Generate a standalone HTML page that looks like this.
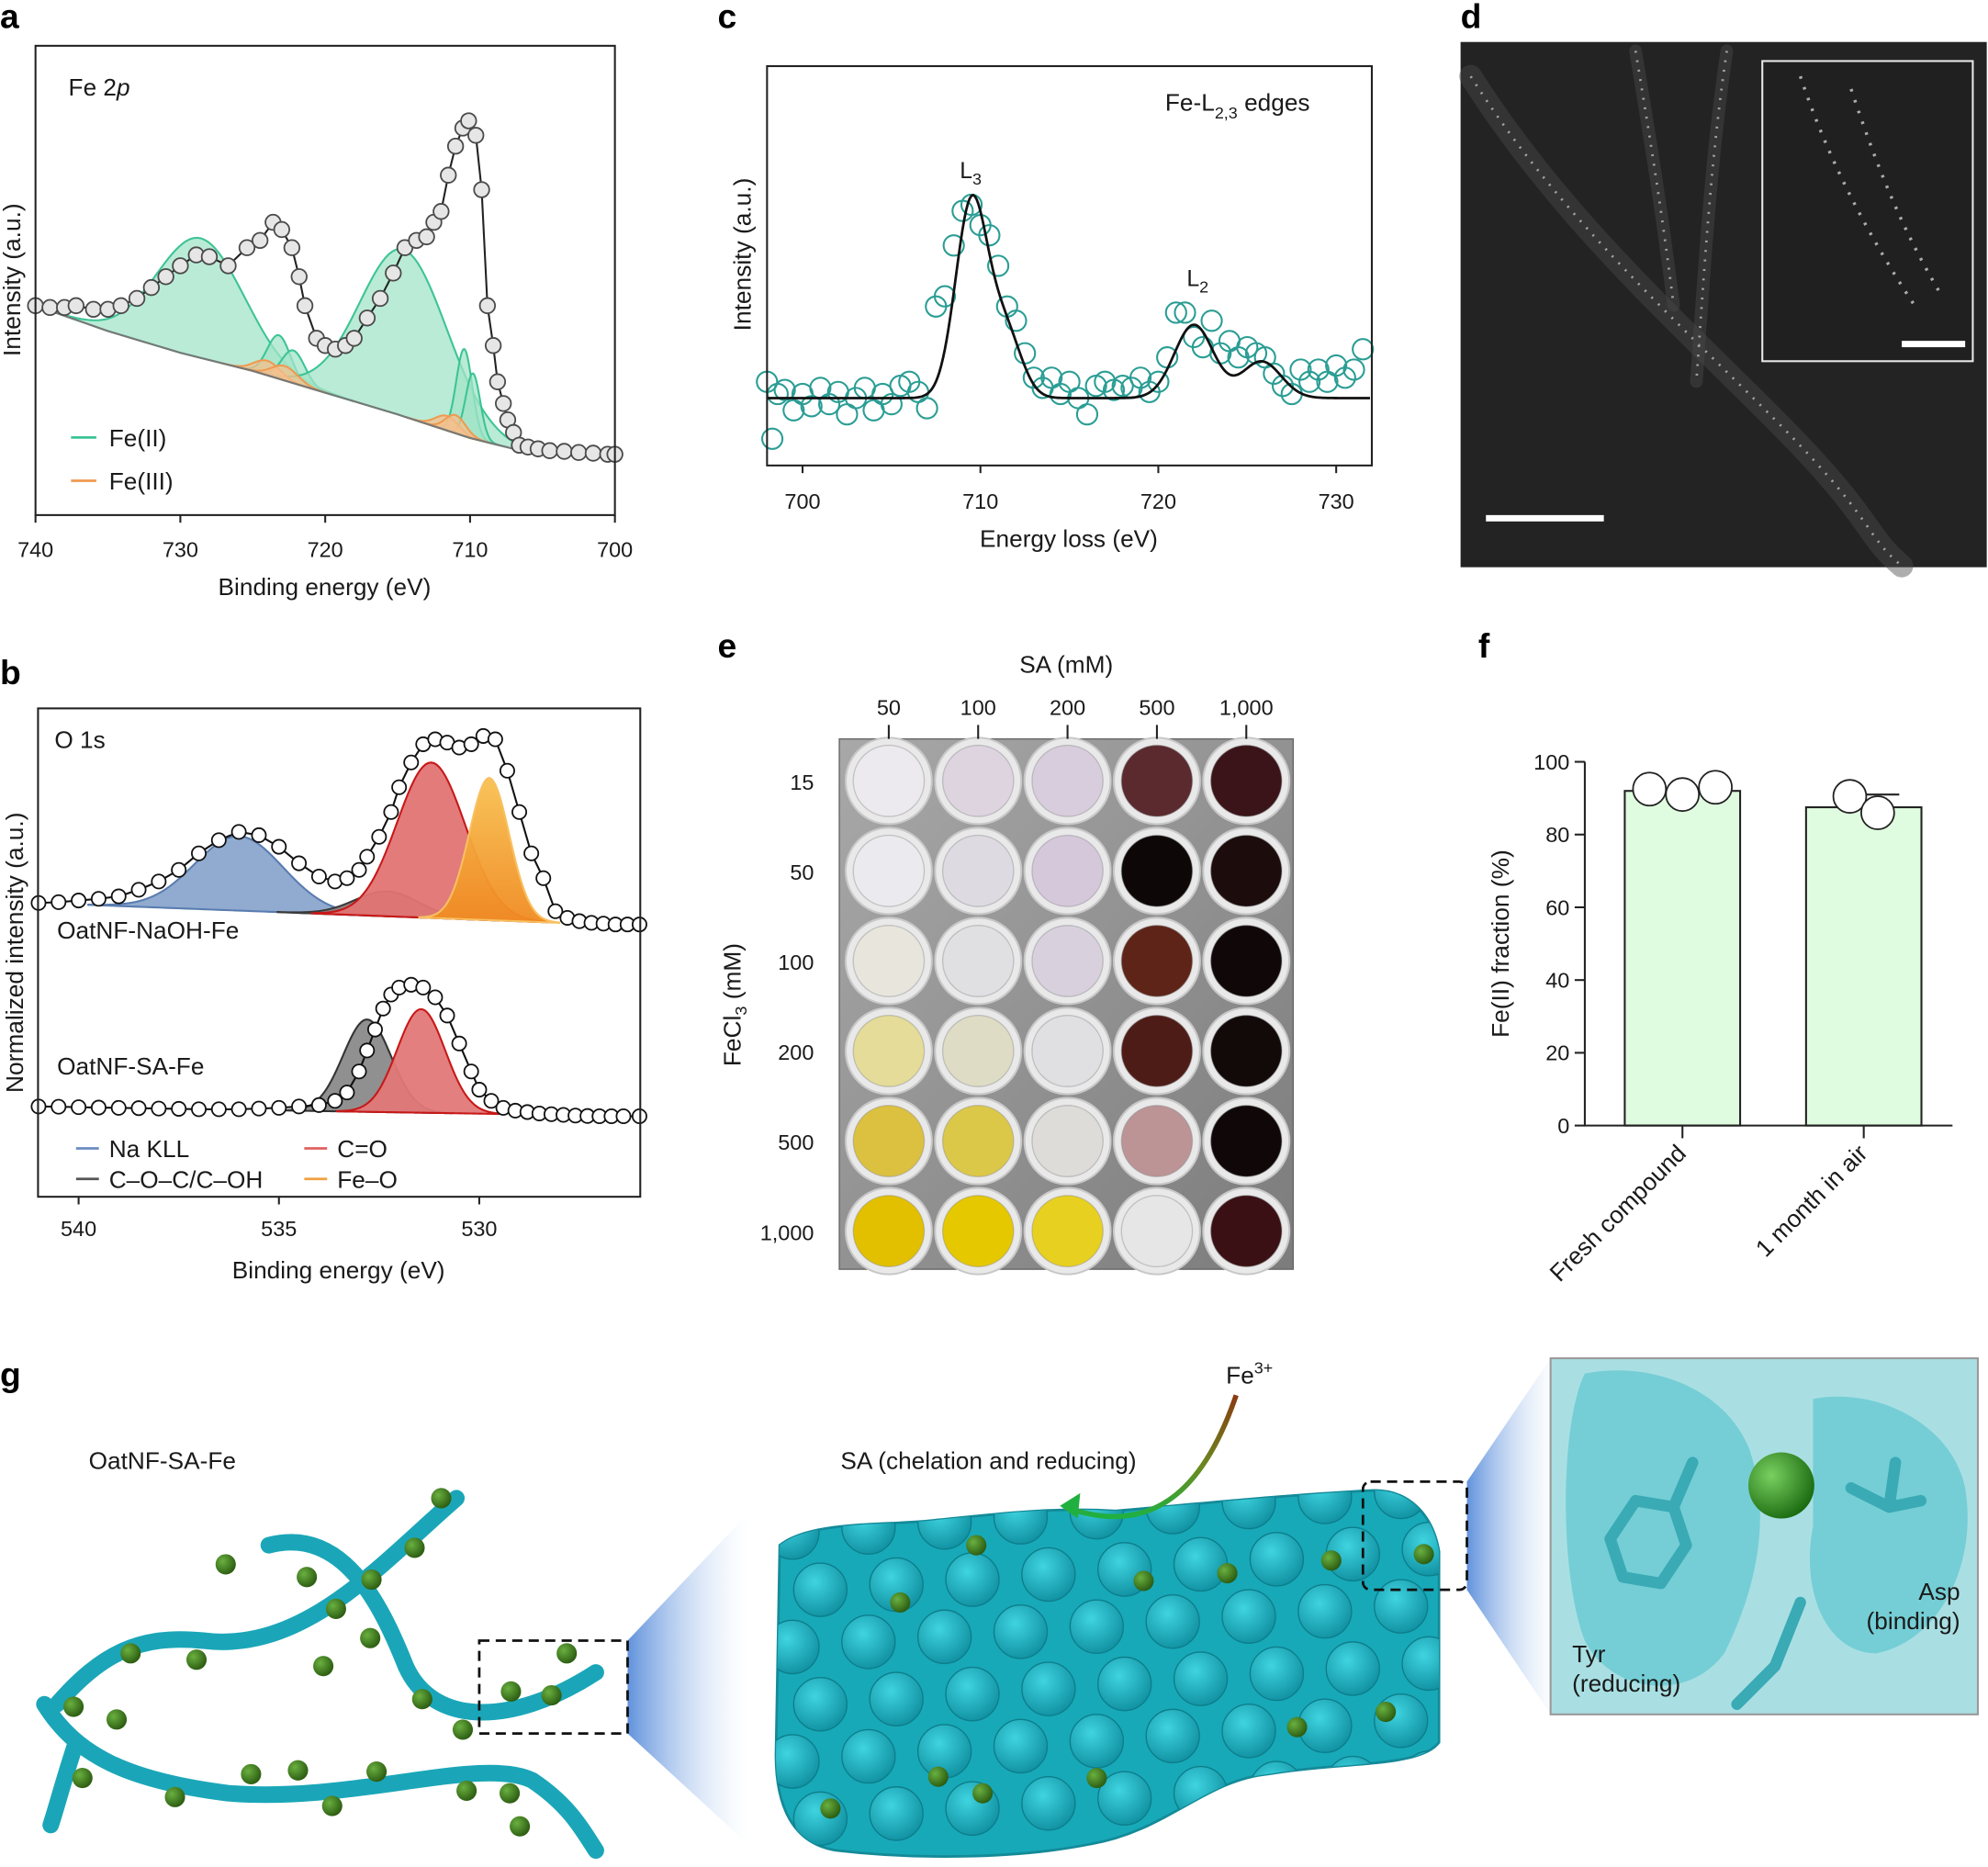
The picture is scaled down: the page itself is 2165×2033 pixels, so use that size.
<!DOCTYPE html>
<html><head><meta charset="utf-8"><style>
html,body{margin:0;padding:0;background:#fff;}
svg{display:block;font-family:"Liberation Sans",sans-serif;}
</style></head><body>
<svg id="fig" xmlns="http://www.w3.org/2000/svg" width="2165" height="2033" viewBox="0 0 1568 1468" preserveAspectRatio="none">
<defs>
<linearGradient id="wedge1" x1="0" y1="0" x2="1" y2="0"><stop offset="0" stop-color="#4f86d8" stop-opacity="0.9"/><stop offset="1" stop-color="#cfe0f6" stop-opacity="0"/></linearGradient>
<linearGradient id="wedge2" x1="0" y1="0" x2="1" y2="0"><stop offset="0" stop-color="#4f86d8" stop-opacity="0.9"/><stop offset="1" stop-color="#cfe0f6" stop-opacity="0.1"/></linearGradient>
<linearGradient id="arrowg" x1="0" y1="0" x2="0" y2="1"><stop offset="0" stop-color="#8a3a10"/><stop offset="0.6" stop-color="#6a8a20"/><stop offset="1" stop-color="#20b040"/></linearGradient>
<linearGradient id="plateg" x1="0" y1="0" x2="1" y2="1"><stop offset="0" stop-color="#a8a8a8"/><stop offset="1" stop-color="#7c7c7c"/></linearGradient>
<linearGradient id="feog" x1="0" y1="0" x2="0" y2="1"><stop offset="0" stop-color="#f8c050"/><stop offset="1" stop-color="#f08a20"/></linearGradient>
<radialGradient id="ballg" cx="0.35" cy="0.35" r="0.7"><stop offset="0" stop-color="#7ad060"/><stop offset="1" stop-color="#1a6a10"/></radialGradient>
<radialGradient id="dotg" cx="0.35" cy="0.35" r="0.7"><stop offset="0" stop-color="#6ab040"/><stop offset="1" stop-color="#2a5a10"/></radialGradient>
<radialGradient id="bumpg" cx="0.4" cy="0.35" r="0.7"><stop offset="0" stop-color="#3fd4e0"/><stop offset="1" stop-color="#0f8fa0"/></radialGradient>
<clipPath id="blobclip"><path d="M615,1215 C640,1195 700,1200 740,1195 C790,1190 830,1185 880,1188 C950,1182 1020,1175 1080,1172 C1110,1170 1130,1190 1135,1220 L1135,1370 C1120,1390 1060,1385 1000,1395 C950,1400 920,1440 860,1450 C800,1462 720,1462 660,1455 C625,1450 612,1420 612,1380 Z"/></clipPath>
</defs>
</svg>
<script>
// ---------- DATA ----------
const aEnergy=[740,739,738,737.2,736,735,734.1,733,732,731,730,728.9,728,726.7,725.4,724.5,723.6,723,722.3,721.8,721.4,720.6,720,719.3,718.6,718,717.1,716.2,715.3,714.5,713.7,713,712.5,712,711.5,711,710.5,710.1,709.6,709.2,708.8,708.4,708.1,707.7,707.4,707,706.6,706,705.3,704.5,703.5,702.5,701.5,700.5,700];
const aInt=[49,48.5,48.5,49,48,48,49,51,54,57,60,63,62.5,60,65,67,72,70,65,57,49,40,38,37,38,40,45.6,51,58,65,67,68,72,75,85,93,98,100,96,81,49,38,28,22,17.5,14,10.5,10,9.5,9,8.8,8.5,8.3,8,8];
const aBaseE=[740,735,730,725,720,715,710,707,700];
const aBaseI=[49,42,36,31,25,19,12.5,9.5,8];
const aFe2Center=[728.6,723.2,722.2,714.6,710.4,709.8];
const aFe2Height=[33,12,9,46,24,18];
const aFe2Sigma=[3.0,0.8,0.8,3.0,0.55,0.5];
const aFe3Center=[724.0,722.8,711.6,711.0];
const aFe3Height=[4,4,4,5];
const aFe3Sigma=[0.9,0.9,0.8,0.7];
const aTicks=[740,730,720,710,700];
const bTopE=[541,540.5,540,539.5,539,538.5,538,537.5,537,536.5,536,535.5,535,534.5,534,533.6,533.3,533,532.8,532.5,532.2,532,531.7,531.4,531.1,530.8,530.5,530.2,529.9,529.6,529.3,529,528.7,528.4,528.1,527.8,527.5,527.2,526.9,526.6,526.3,526];
const bTopI=[0,0.5,1.5,2.5,4,8,13,20,30,38,43,41,34,24,16,13,15,20,28,40,55,70,85,96,99,97,94,96,101,99,80,55,30,15,-5,-9,-11,-12,-12.5,-13,-13,-13];
const bBotE=[541,540.5,540,539.5,539,538.5,538,537.5,537,536.5,536,535.5,535,534.5,534,533.6,533.3,533,532.8,532.6,532.4,532.2,532,531.7,531.4,531.1,530.8,530.5,530.2,530,529.7,529.4,529.1,528.8,528.5,528.2,527.9,527.6,527.3,527,526.7,526.4,526];
const bBotI=[0,-0.2,-0.5,-0.8,-1,-1.2,-1.5,-1.7,-2,-2,-2,-1.5,-1,0,1,4,10,25,40,55,70,80,85,87,85,78,65,45,25,12,4,-1,-3,-4,-5,-5.5,-6,-6.5,-6.8,-7,-7,-7,-7];
const bTopComp=[["Na KLL",536,45,1.1,"#8aa6cc","#5a7cb0"],["C–O–C/C–OH",532.3,15,0.8,"#8c7c7c","#3a3a3a"],["C=O",531.2,94,0.85,"#e27474","#c81818"],["Fe–O",529.75,86,0.5,"url(#feog)","#f8c060"]];
const bBotComp=[["C–O–C/C–OH",532.8,66,0.6,"#8a8a8a","#333"],["C=O",531.45,74,0.6,"#e27878","#c81818"]];
const bTicks=[540,535,530];
const cEnergy=[698,698.3,698.6,699,699.5,700,700.5,701,701.5,702,702.5,703,703.5,704,704.5,705,705.5,706,706.5,707,707.5,708,708.5,709,709.5,710,710.5,711,711.5,712,712.5,713,713.5,714,714.5,715,715.5,716,716.5,717,717.5,718,718.5,719,719.5,720,720.5,721,721.5,722,722.5,723,723.5,724,724.5,725,725.5,726,726.5,727,727.5,728,728.5,729,729.5,730,730.5,731,731.5];
const cInt=[8,-20,2,4,-6,2,-4,5,-3,3,-8,0,5,-6,2,-3,6,8,3,-5,45,50,75,92,95,85,80,65,45,38,22,10,5,10,2,8,0,-8,6,8,4,6,5,10,3,8,20,42,42,30,25,38,22,28,20,25,22,20,12,6,2,14,8,14,8,16,10,14,24];
const cPeakC=[709.5,711.4,722.0,725.8];
const cPeakH=[96,32,36,18];
const cPeakS=[0.9,0.9,1.1,1.1];
const cTicks=[700,710,720,730];
const eCols=["50","100","200","500","1,000"];
const eRows=["15","50","100","200","500","1,000"];
const eColors=[["#eceaee","#ddd4e0","#d8cddc","#5a2a2e","#3a1418"],["#ebeaee","#dedae2","#d4c8da","#0d0707","#1c0c0c"],["#e8e6dc","#e0dfe2","#d8d0dc","#5e2418","#100808"],["#e4dc98","#dedcc4","#e0dfe2","#4e1c16","#120909"],["#dcc040","#dcc848","#dedcd8","#bc9496","#100808"],["#e2c000","#e6c800","#e8d020","#e6e6e6","#3a1014"]];
const fCats=["Fresh compound","1 month in air"];
const fMeans=[92,87.5];
const fPts=[[92.5,91,93],[90.5,86]];
const fErr=[0.6,3.5];
const fTicks=[0,20,40,60,80,100];

// ---------- HELPERS ----------
const NS="http://www.w3.org/2000/svg";
const svg=document.getElementById("fig");
function mk(tag,parent,attrs){const e=document.createElementNS(NS,tag);for(const k in attrs)e.setAttribute(k,attrs[k]);parent.appendChild(e);return e;}
function grp(name){const g=mk("g",svg,{});


return g;}
function txt(parent,x,y,s,size,anchor,name,extra){const t=mk("text",parent,Object.assign({x:x,y:y,"font-size":size,"text-anchor":anchor||"start",fill:"#1a1a1a"},extra||{}));t.textContent=s;


return t;}
function gauss(e,c,h,s){return h*Math.exp(-(e-c)*(e-c)/(2*s*s));}
function interp(xs,ys,x){for(let i=0;i<xs.length-1;i++){const a=xs[i],b=xs[i+1];if((x<=a&&x>=b)||(x>=a&&x<=b)){const t=(x-a)/(b-a);return ys[i]+t*(ys[i+1]-ys[i]);}}return ys[ys.length-1];}
function letter(x,y,s){txt(svg,x,y,s,27,"start","panel-label-"+s,{"font-weight":"bold",fill:"#000"});}

// ---------- PANEL A ----------
(function(){
const g=grp("panel-a-fe2p");
const xa=e=>28+(740-e)*11.425, ya=i=>380-2.85*i;
const base=e=>interp(aBaseE,aBaseI,e);
function comp(c,h,s,fill,stroke,name){let top=[],bot=[];for(let e=c-3.5*s;e<=c+3.5*s;e+=s/12){top.push(xa(e)+","+ya(base(e)+gauss(e,c,h,s)));bot.unshift(xa(e)+","+ya(base(e)));}
const p=mk("path",g,{d:"M"+top.join(" L")+" L"+bot.join(" L")+"Z",fill:fill,"fill-opacity":0.75,stroke:stroke,"stroke-width":1.5});

}
for(let k=0;k<aFe2Center.length;k++)comp(aFe2Center[k],aFe2Height[k],aFe2Sigma[k],"#a3e4c8","#3cc495","fe2-component");
for(let k=0;k<aFe3Center.length;k++)comp(aFe3Center[k],aFe3Height[k],aFe3Sigma[k],"#f6bf8c","#f09a50","fe3-component");
let bl=[];for(let e=740;e>=700;e-=0.5)bl.push(xa(e)+","+ya(base(e)));
const b=mk("polyline",g,{points:bl.join(" "),fill:"none",stroke:"#777","stroke-width":1.5});


const env=mk("polyline",g,{points:aEnergy.map((e,i)=>xa(e)+","+ya(aInt[i])).join(" "),fill:"none",stroke:"#222","stroke-width":1.5});


aEnergy.forEach((e,i)=>{const c=mk("circle",g,{cx:xa(e),cy:ya(aInt[i]),r:6,fill:"#e6e6e6",stroke:"#4a4a4a","stroke-width":1.3});

});
const box=mk("rect",g,{x:28,y:36,width:457,height:369,fill:"none",stroke:"#222","stroke-width":1.5});


aTicks.forEach(t=>{const l=mk("line",g,{x1:xa(t),x2:xa(t),y1:405,y2:411,stroke:"#222","stroke-width":1.5});


txt(g,xa(t),438,String(t),17,"middle","x-tick-label");});
txt(g,256,468,"Binding energy (eV)",19,"middle","x-axis-title");
txt(g,16,220,"Intensity (a.u.)",19,"middle","y-axis-title",{transform:"rotate(-90 16 220)"});
const t=txt(g,54,75,"Fe 2",19,"start","spectrum-label");const ts=mk("tspan",t,{"font-style":"italic"});ts.textContent="p";
[[344,"#3cc495","Fe(II)"],[378,"#f09a50","Fe(III)"]].forEach(d=>{const l=mk("line",g,{x1:56,x2:76,y1:d[0],y2:d[0],stroke:d[1],"stroke-width":2});


txt(g,86,d[0]+7,d[2],19,"start","legend-entry");});
})();

// ---------- PANEL B ----------
(function(){
const g=grp("panel-b-o1s");
const xb=e=>62+(540-e)*31.6;
const yT=i=>710-1.3*i, yB=i=>870-1.1*i;
const bT=e=>e>=528?-(541-e)/13*12:-12-(528-e)*0.5;
const bB=e=>-(541-e)/15*7;
function comps(list,yf,base){list.forEach(c=>{let top=[],bot=[];for(let e=c[1]-3.5*c[3];e<=c[1]+3.5*c[3];e+=c[3]/12){top.push(xb(e)+","+yf(base(e)+gauss(e,c[1],c[2],c[3])));bot.unshift(xb(e)+","+yf(base(e)));}
const p=mk("path",g,{d:"M"+top.join(" L")+" L"+bot.join(" L")+"Z",fill:c[4],stroke:c[5],"stroke-width":1.5,"fill-opacity":0.95});

});}
comps(bTopComp,yT,bT);comps(bBotComp,yB,bB);
function series(E,I,yf,name){const l=mk("polyline",g,{points:E.map((e,i)=>xb(e)+","+yf(I[i])).join(" "),fill:"none",stroke:"#111","stroke-width":1.5});


E.forEach((e,i)=>{const c=mk("circle",g,{cx:xb(e),cy:yf(I[i]),r:5.5,fill:"#fff",stroke:"#111","stroke-width":1.3});

});}
series(bTopE,bTopI,yT,"naoh-fe");series(bBotE,bBotI,yB,"sa-fe");
const box=mk("rect",g,{x:30,y:557,width:475,height:384,fill:"none",stroke:"#222","stroke-width":1.5});


bTicks.forEach(t=>{const l=mk("line",g,{x1:xb(t),x2:xb(t),y1:941,y2:947,stroke:"#222","stroke-width":1.5});


txt(g,xb(t),972,String(t),17,"middle","x-tick-label");});
txt(g,267,1005,"Binding energy (eV)",19,"middle","x-axis-title");
txt(g,18,749,"Normalized intensity (a.u.)",19,"middle","y-axis-title",{transform:"rotate(-90 18 749)"});
txt(g,43,588,"O 1s",19,"start","spectrum-label");
txt(g,45,738,"OatNF-NaOH-Fe",19,"start","series-label-naoh");
txt(g,45,845,"OatNF-SA-Fe",19,"start","series-label-sa");
[[60,903,"#6a8cc0","Na KLL"],[60,927,"#555","C–O–C/C–OH"],[240,903,"#e06060","C=O"],[240,927,"#f0a040","Fe–O"]].forEach(d=>{const l=mk("line",g,{x1:d[0],x2:d[0]+18,y1:d[1],y2:d[1],stroke:d[2],"stroke-width":2});


txt(g,d[0]+26,d[1]+7,d[3],19,"start","legend-entry");});
})();

// ---------- PANEL C ----------
(function(){
const g=grp("panel-c-eels");
const xc=e=>633+(e-700)*14.03, yc=i=>313-1.6*i;
cEnergy.forEach((e,i)=>{const c=mk("circle",g,{cx:xc(e),cy:yc(cInt[i]),r:8,fill:"none",stroke:"#2a9d94","stroke-width":1.5});

});
let pts=[];for(let e=698;e<=732;e+=0.1){let s=0;for(let k=0;k<cPeakC.length;k++)s+=gauss(e,cPeakC[k],cPeakH[k],cPeakS[k]);pts.push(xc(e)+","+yc(s));}
const f=mk("polyline",g,{points:pts.join(" "),fill:"none",stroke:"#111","stroke-width":2});


const box=mk("rect",g,{x:605,y:52,width:477,height:314,fill:"none",stroke:"#222","stroke-width":1.5});


cTicks.forEach(t=>{const l=mk("line",g,{x1:xc(t),x2:xc(t),y1:366,y2:372,stroke:"#222","stroke-width":1.5});


txt(g,xc(t),400,String(t),17,"middle","x-tick-label");});
txt(g,843,430,"Energy loss (eV)",19,"middle","x-axis-title");
txt(g,592,200,"Intensity (a.u.)",19,"middle","y-axis-title",{transform:"rotate(-90 592 200)"});
const t=txt(g,919,87,"Fe-L",19,"start","edge-label");const s=mk("tspan",t,{"font-size":13,dy:6});s.textContent="2,3";const s2=mk("tspan",t,{dy:-6});s2.textContent=" edges";
const l3=txt(g,757,140,"L",18,"start","l3-label");const a=mk("tspan",l3,{"font-size":13,dy:5});a.textContent="3";
const l2=txt(g,936,225,"L",18,"start","l2-label");const b=mk("tspan",l2,{"font-size":13,dy:5});b.textContent="2";
})();

// ---------- PANEL D ----------
(function(){
const g=grp("panel-d-micrograph");
const r=mk("rect",g,{x:1152,y:33,width:415,height:413,fill:"#232323"});


const streaks=["M1160,60 C1230,170 1320,250 1400,330 S1470,420 1500,445","M1362,40 C1350,120 1345,200 1338,300","M1290,40 C1300,100 1310,160 1320,240"];
streaks.forEach((d,i)=>{const glow=mk("path",g,{d:d,fill:"none",stroke:"#4a4a4a","stroke-width":i<1?18:10,"stroke-opacity":0.45,"stroke-linecap":"round"});


const p=mk("path",g,{d:d,fill:"none",stroke:"#bdbdbd","stroke-width":2,"stroke-dasharray":"1.5 6","stroke-opacity":0.8});

});
const inset=mk("rect",g,{x:1390,y:48,width:166,height:236,fill:"#202020",stroke:"#e8e8e8","stroke-width":1.5});


["M1420,60 C1440,120 1470,180 1510,240","M1460,70 C1480,130 1500,180 1530,230"].forEach(d=>{const p=mk("path",g,{d:d,fill:"none",stroke:"#cfcfcf","stroke-width":2.5,"stroke-dasharray":"2 7","stroke-opacity":0.8});

});
const sb=mk("rect",g,{x:1172,y:405,width:93,height:5,fill:"#fff"});


const sb2=mk("rect",g,{x:1500,y:268,width:50,height:5,fill:"#fff"});


})();

// ---------- PANEL E ----------
(function(){
const g=grp("panel-e-plate");
const plate=mk("rect",g,{x:662,y:581,width:358,height:417,fill:"url(#plateg)",stroke:"#666","stroke-width":1});


const cx=j=>701+j*70.5, cy=i=>614+i*70.8;
eRows.forEach((rw,i)=>{eCols.forEach((cl,j)=>{const ring=mk("circle",g,{cx:cx(j),cy:cy(i),r:34,fill:"#e9e9ea",stroke:"#c8c8c8","stroke-width":1.5});


const w=mk("circle",g,{cx:cx(j),cy:cy(i),r:28,fill:eColors[i][j],stroke:"#888","stroke-width":1,"stroke-opacity":0.4});

});
txt(g,642,cy(i)+7,rw,17,"end","row-label");});
eCols.forEach((cl,j)=>{txt(g,cx(j),562,cl,17,"middle","column-label");
const l=mk("line",g,{x1:cx(j),x2:cx(j),y1:570,y2:581,stroke:"#222","stroke-width":1.5});

});
txt(g,841,529,"SA (mM)",19,"middle","top-axis-title");
const t=txt(g,584,790,"FeCl",19,"middle","y-axis-title",{transform:"rotate(-90 584 790)"});const s=mk("tspan",t,{"font-size":13,dy:5});s.textContent="3";const s2=mk("tspan",t,{dy:-5});s2.textContent=" (mM)";
})();

// ---------- PANEL F ----------
(function(){
const g=grp("panel-f-bars");
const yf=v=>885-v*2.86;
const xCenter=k=>1327+k*143, bw=91;
fMeans.forEach((m,k)=>{const b=mk("rect",g,{x:xCenter(k)-bw/2,y:yf(m),width:bw,height:yf(0)-yf(m),fill:"#e0fce0",stroke:"#222","stroke-width":1.5});


const e=mk("path",g,{d:"M"+xCenter(k)+","+yf(m)+" V"+yf(m+fErr[k])+" M"+xCenter(k)+","+yf(m+fErr[k])+" H"+(xCenter(k)+28),fill:"none",stroke:"#222","stroke-width":1.5});


fPts[k].forEach((v,n)=>{const off=fPts[k].length===3?(n-1)*26:(n-0.5)*22;const c=mk("circle",g,{cx:xCenter(k)+off,cy:yf(v),r:13,fill:"#fff",stroke:"#222","stroke-width":1.3});

});
const tk=mk("line",g,{x1:xCenter(k),x2:xCenter(k),y1:885,y2:895,stroke:"#222","stroke-width":1.5});


const x0=xCenter(k)+4,y0=908;txt(g,x0,y0,fCats[k],19,"end","x-tick-label",{transform:"rotate(-45 "+x0+" "+y0+")"});});
const ax=mk("path",g,{d:"M1250,"+yf(100)+" V885 H1540",fill:"none",stroke:"#222","stroke-width":1.5});


fTicks.forEach(t=>{const l=mk("line",g,{x1:1242,x2:1250,y1:yf(t),y2:yf(t),stroke:"#222","stroke-width":1.5});


txt(g,1238,yf(t)+6,String(t),17,"end","y-tick-label");});
txt(g,1190,742,"Fe(II) fraction (%)",19,"middle","y-axis-title",{transform:"rotate(-90 1190 742)"});
})();

// ---------- PANEL G ----------
(function(){
const g=grp("panel-g-illustration");
const w1=mk("polygon",g,{points:"495,1290 495,1363 590,1450 590,1190",fill:"url(#wedge1)"});


const w2=mk("polygon",g,{points:"1157,1165 1157,1250 1223,1348 1223,1068",fill:"url(#wedge2)"});


const fibers=["M360,1178 C300,1230 240,1300 160,1290 C110,1285 80,1300 45,1340","M212,1215 C270,1200 300,1260 320,1310 C340,1355 400,1360 470,1315","M35,1340 C60,1380 100,1400 180,1410 C280,1418 380,1380 420,1400 C450,1420 460,1440 470,1455","M60,1370 C50,1400 45,1420 40,1435"];
fibers.forEach(d=>{const p=mk("path",g,{d:d,fill:"none",stroke:"#1aa6b8","stroke-width":13,"stroke-linecap":"round"});

});
const dots=[[348,1178],[327,1217],[293,1242],[265,1265],[242,1240],[155,1305],[103,1300],[58,1342],[92,1352],[255,1310],[292,1288],[333,1336],[365,1360],[403,1330],[435,1333],[447,1300],[65,1398],[138,1413],[198,1395],[235,1392],[262,1420],[297,1393],[368,1408],[402,1410],[410,1436],[178,1230]];
dots.forEach(d=>{const c=mk("circle",g,{cx:d[0],cy:d[1],r:8,fill:"url(#dotg)"});

});
const db=mk("rect",g,{x:378,y:1290,width:117,height:73,fill:"none",stroke:"#111","stroke-width":2,"stroke-dasharray":"8 5"});


const blob=mk("path",g,{d:"M615,1215 C640,1195 700,1200 740,1195 C790,1190 830,1185 880,1188 C950,1182 1020,1175 1080,1172 C1110,1170 1130,1190 1135,1220 L1135,1370 C1120,1390 1060,1385 1000,1395 C950,1400 920,1440 860,1450 C800,1462 720,1462 660,1455 C625,1450 612,1420 612,1380 Z",fill:"#17a9b8",stroke:"#148a98","stroke-width":2});


const bumps=mk("g",g,{"clip-path":"url(#blobclip)"});


for(let k=0;k<9;k++){for(let j=0;j<6;j++){const x=625+k*60+(j%2)*22, y=1205+j*45-k*4;const c=mk("circle",bumps,{cx:x,cy:y,r:21,fill:"url(#bumpg)",stroke:"#0d7e8c","stroke-width":1});

}}
const gdots=[[710,1260],[770,1215],[902,1243],[968,1237],[1050,1227],[1123,1222],[740,1397],[775,1410],[865,1398],[1023,1358],[1093,1346],[655,1422]];
gdots.forEach(d=>{const c=mk("circle",g,{cx:d[0],cy:d[1],r:8,fill:"url(#dotg)"});

});
const db2=mk("rect",g,{x:1075,y:1165,width:82,height:85,fill:"none",stroke:"#111","stroke-width":2,"stroke-dasharray":"8 5",rx:6});


const arr=mk("path",g,{d:"M975,1097 C950,1170 910,1210 840,1185",fill:"none",stroke:"url(#arrowg)","stroke-width":4});


const ah=mk("polygon",g,{points:"836,1184 852,1174 850,1194",fill:"#20b040"});


const t=txt(g,967,1088,"Fe",19,"start","fe3-label");const s=mk("tspan",t,{"font-size":13,dy:-8});s.textContent="3+";
txt(g,663,1155,"SA (chelation and reducing)",19,"start","sa-label");
txt(g,70,1155,"OatNF-SA-Fe",19,"start","fiber-label");
const rb=mk("rect",g,{x:1223,y:1068,width:337,height:280,fill:"#a9dfe3",stroke:"#999","stroke-width":1.5});


["M1250,1080 C1300,1070 1360,1090 1380,1140 C1400,1200 1380,1260 1360,1300 C1330,1340 1270,1330 1250,1290 C1230,1240 1230,1120 1250,1080Z","M1430,1100 C1480,1090 1540,1120 1550,1170 C1560,1230 1530,1290 1480,1300 C1440,1300 1420,1250 1430,1200Z"].forEach(d=>{const p=mk("path",g,{d:d,fill:"#5fc6cf","fill-opacity":0.7});

});
["M1270,1210 L1290,1180 L1320,1185 L1330,1215 L1310,1245 L1280,1240 Z M1320,1185 L1335,1150","M1460,1170 L1490,1185 L1515,1180 M1490,1185 L1495,1150","M1420,1260 L1400,1310 L1370,1340"].forEach(d=>{const p=mk("path",g,{d:d,fill:"none",stroke:"#3aaab5","stroke-width":9,"stroke-linejoin":"round","stroke-linecap":"round"});

});
const ball=mk("circle",g,{cx:1405,cy:1168,r:26,fill:"url(#ballg)"});


txt(g,1240,1307,"Tyr",19,"start","tyr-label");
txt(g,1240,1330,"(reducing)",19,"start","tyr-role-label");
txt(g,1546,1258,"Asp",19,"end","asp-label");
txt(g,1546,1281,"(binding)",19,"end","asp-role-label");
})();

letter(0,22,"a");letter(0,538,"b");letter(566,22,"c");letter(1152,22,"d");letter(566,517,"e");letter(1166,517,"f");letter(0,1090,"g");
</script>
</body></html>
